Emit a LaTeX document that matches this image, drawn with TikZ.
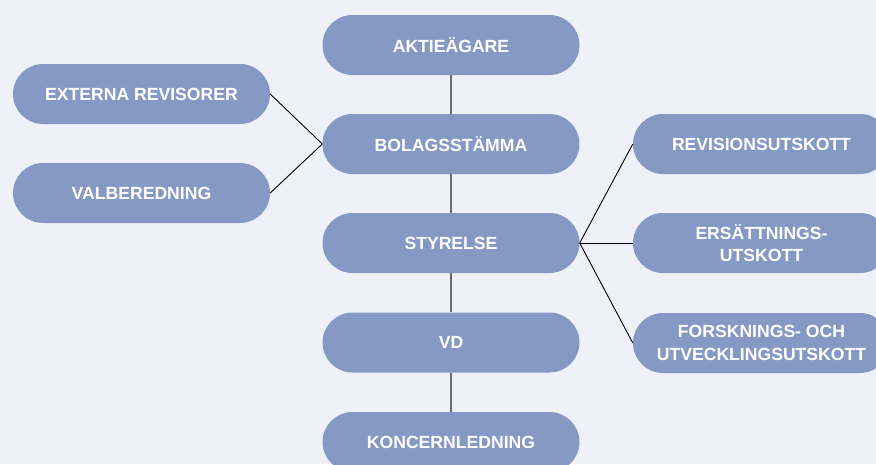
\documentclass[tikz,border=0pt]{standalone}
\usepackage{fontspec}
\setmainfont{Liberation Sans}
\definecolor{bgc}{HTML}{EEF2F8}
\definecolor{boxc}{HTML}{8599C4}
\definecolor{linegray}{HTML}{6A6A6A}
\begin{document}
\begin{tikzpicture}[x=1pt,y=-1pt,
  box/.style={fill=boxc, rounded corners=30pt, minimum width=257pt, minimum height=60pt,
    inner sep=0pt, text=white, align=center,
    font=\fontsize{17.6}{22.3}\selectfont\bfseries},
  vline/.style={draw=linegray, line width=1.6pt},
  dline/.style={draw=black, line width=0.9pt}]
\useasboundingbox (0,0) rectangle (876,464);
\fill[bgc] (0,0) rectangle (876,464);
\clip (0,0) rectangle (876,464);
% centre column
\node[box] (akt) at (451,45) {AKTIEÄGARE};
\node[box] (bol) at (451,144) {BOLAGSSTÄMMA};
\node[box] (sty) at (451,243) {STYRELSE};
\node[box] (vd)  at (451,342.5) {VD};
\node[box] (kon) at (451,442) {KONCERNLEDNING};
% left column
\node[box] (ext) at (141.5,94) {EXTERNA REVISORER};
\node[box] (val) at (141.5,193) {VALBEREDNING};
% right column
\node[box] (rev) at (761.5,144) {REVISIONSUTSKOTT};
\node[box] (ers) at (761.5,243) {ERSÄTTNINGS-\\UTSKOTT};
\node[box] (for) at (761.5,343) {FORSKNINGS- OCH\\UTVECKLINGSUTSKOTT};
% connectors
\draw[vline] (akt.south) -- (bol.north);
\draw[vline] (bol.south) -- (sty.north);
\draw[vline] (sty.south) -- (vd.north);
\draw[vline] (vd.south) -- (kon.north);
\draw[dline] (ext.east) -- (bol.west);
\draw[dline] (val.east) -- (bol.west);
\draw[dline] (sty.east) -- (rev.west);
\draw[dline] (sty.east) -- (ers.west);
\draw[dline] (sty.east) -- (for.west);
\end{tikzpicture}
\end{document}
